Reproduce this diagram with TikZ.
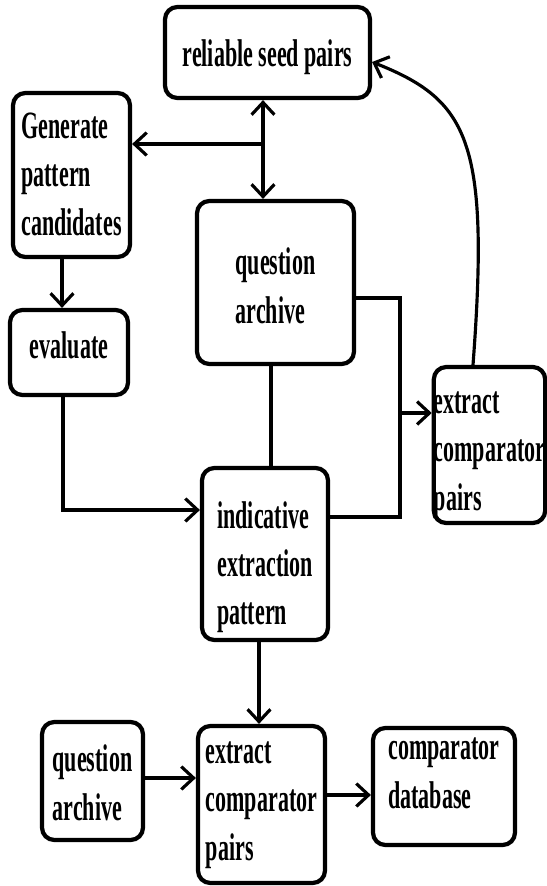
\documentclass[tikz,border=0pt]{standalone}
\usepackage{fontspec}
\newfontfamily\boxfont[FakeStretch=0.57]{Liberation Serif}
\usetikzlibrary{arrows.meta}
\begin{document}
\begin{tikzpicture}[
    x=0.02cm, y=-0.02cm,
    stage/.style={draw, line width=2.4pt, rounded corners=7pt, align=left, inner sep=0pt, text depth=0pt,
        font=\boxfont\bfseries\fontsize{22}{27.6}\selectfont},
    link/.style={line width=1.8pt},
    flow/.style={line width=1.8pt, -{Straight Barb[length=7pt,width=13pt]}},
    both/.style={line width=1.8pt, {Straight Barb[length=7pt,width=13pt]}-{Straight Barb[length=7pt,width=13pt]}}
]
\useasboundingbox (0,0) rectangle (547,886);

% Stages
\node[stage, align=center, minimum width=4.1cm, minimum height=1.82cm, text height=16.5pt] (seed) at (267.5,52.5) {reliable seed pairs};
\node[stage, minimum width=2.34cm, minimum height=3.28cm, text height=68.3pt] (gen) at (71.5,175) {Generate\\pattern\\candidates};
\node[stage, minimum width=3.14cm, minimum height=3.26cm, text height=46.1pt] (qa) at (275.5,282.5) {question\\archive};
\node[stage, align=center, minimum width=2.36cm, minimum height=1.7cm, text height=6.3pt] (eval) at (69,352.5) {evaluate};
\node[stage, minimum width=2.52cm, minimum height=3.44cm, text height=80.8pt] (ind) at (265,554) {indicative\\extraction\\pattern};
\node[stage, minimum width=2.18cm, minimum height=3.12cm, text height=74pt] (xr) at (489.5,445) {extract\\comparator\\pairs};
\node[stage, minimum width=2.02cm, minimum height=2.36cm, text height=44.4pt] (qb) at (92.5,781) {question\\archive};
\node[stage, minimum width=2.54cm, minimum height=3.14cm, text height=63.2pt] (xb) at (261.5,804.5) {extract\\comparator\\pairs};
\node[stage, minimum width=2.84cm, minimum height=2.34cm, text height=24.5pt] (db) at (444,786.5) {comparator\\database};

% Junctions
\coordinate (jn) at (263,144);
\coordinate (ge) at (62,280);
\coordinate (ee) at (63,510);
\coordinate (qi) at (271,415);
\coordinate (ra) at (400,298);
\coordinate (rb) at (400,517);
\coordinate (jr) at (400,413);
\coordinate (cb) at (473,300);
\coordinate (se) at (372,62);
\coordinate (ix) at (259,680);
\coordinate (qx) at (170,778);
\coordinate (xd) at (350,795);

% Connectors
\draw[both] (seed.south -| jn) -- (qa.north -| jn);
\draw[flow] (jn) -- (gen.east |- jn);
\draw[flow] (gen.south -| ge) -- (eval.north -| ge);
\draw[flow] (eval.south -| ee) -- (ee) -- (ind.west |- ee);
\draw[link] (qa.south -| qi) -- (ind.north -| qi);
\draw[link] (qa.east |- ra) -- (ra) -- (rb) -- (ind.east |- rb);
\draw[flow] (jr) -- (xr.west |- jr);
\draw[flow] (xr.north -| cb) .. controls (490,140) and (468,100) .. (seed.east |- se);
\draw[flow] (ind.south -| ix) -- (xb.north -| ix);
\draw[flow] (qb.east |- qx) -- (xb.west |- qx);
\draw[flow] (xb.east |- xd) -- (db.west |- xd);

\end{tikzpicture}
\end{document}
